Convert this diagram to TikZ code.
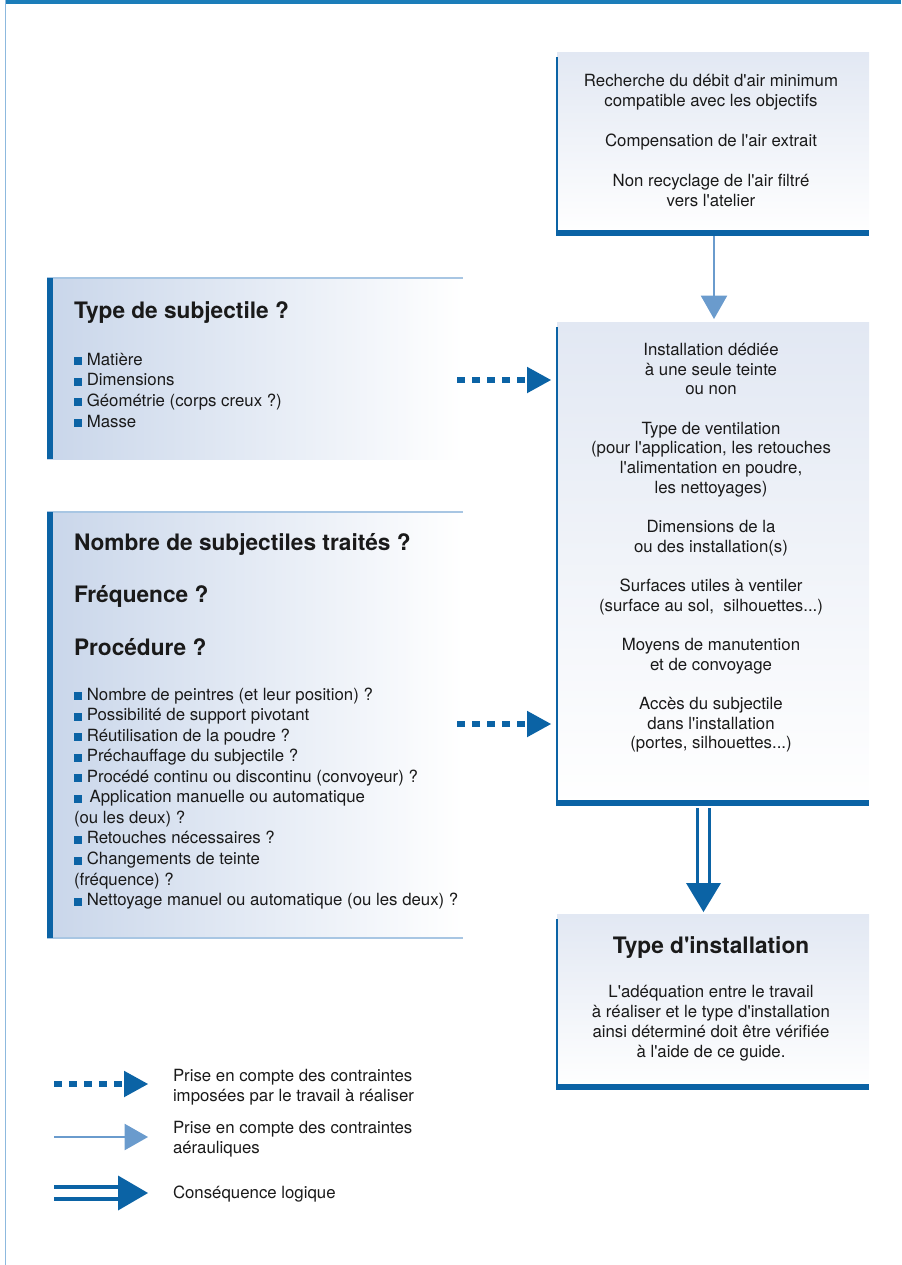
\documentclass[tikz,border=0pt]{standalone}
\usepackage{fontspec}
\setmainfont{TeX Gyre Heros}
\usetikzlibrary{arrows.meta,fit,calc}
\definecolor{dblue}{HTML}{0B63A5}
\definecolor{lblue}{HTML}{6A9BCD}
\definecolor{barblue}{HTML}{1B7DB9}
\definecolor{edgeblue}{HTML}{8DB9DE}
\definecolor{thinblue}{HTML}{A8C6E3}
\definecolor{shadeL}{HTML}{C9D6EA}
\definecolor{shadeR}{HTML}{E2E8F3}
\definecolor{ink}{HTML}{1A1A1A}
\newcommand\sqb{{\color{dblue}\rule{6pt}{6pt}}\hspace{3.6pt}}
\newcommand\q{\textquotesingle}
\begin{document}
\begin{tikzpicture}[x=0.75pt,y=-0.75pt,
  every node/.style={inner sep=0pt, outer sep=0pt, text=ink},
  rbox/.style={inner sep=0pt, outer sep=0pt, top color=shadeR, bottom color=white, draw=none},
  lbox/.style={inner sep=0pt, outer sep=0pt, left color=shadeL, right color=white, draw=none},
  body/.style={font=\fontsize{12.6}{15}\selectfont, align=center},
  lst/.style={font=\fontsize{12.6}{15.4}\selectfont, align=left, anchor=west},
  ttl/.style={font=\fontsize{17}{20}\selectfont\bfseries, anchor=base west},
  thickedge/.style={dblue, line width=4.2pt},
  thinedge/.style={dblue, line width=0.8pt},
  thinline/.style={thinblue, line width=0.8pt},
  dotarrow/.style={dblue, line width=4.5pt, dash pattern=on 5.8pt off 5.45pt, -{Triangle[length=18pt,width=19.9pt,line width=0pt]}},
  airarrow/.style={lblue, line width=1.6pt, -{Triangle[length=17.5pt,width=19.9pt,line width=0pt]}},
  dblshaft/.style={dblue, line width=2.5pt, double=white, double distance=6.5pt},
]
\useasboundingbox (0,0) rectangle (901,1265);
% page frame
\fill[barblue] (5,0) rectangle (901,3.5);
\draw[edgeblue, line width=1.2pt] (5.5,0) -- (5.5,1265);

% right boxes
\node[rbox, fit={(557,52)(869,236)}] (air) {};
\draw[thinedge] ([yshift=-4pt]air.north west) -- (air.south west);
\draw[thickedge] ([yshift=2.1pt]air.south west) -- ([yshift=2.1pt]air.south east);
\node[body] (airtxt) at (711,140) {Recherche du débit d\q air minimum\\compatible avec les objectifs\\[15pt]Compensation de l\q air extrait\\[15pt]Non recyclage de l\q air filtré\\vers l\q atelier};

\node[rbox, fit={(557,322)(869,806)}] (inst) {};
\draw[thinedge] ([yshift=-4pt]inst.north west) -- (inst.south west);
\draw[thickedge] ([yshift=2.1pt]inst.south west) -- ([yshift=2.1pt]inst.south east);
\node[body, font=\fontsize{12.6}{14.75}\selectfont] (insttxt) at (711,548) {Installation dédiée\\à une seule teinte\\ou non\\[14.75pt]Type de ventilation\\(pour l\q application, les retouches\\l\q alimentation en poudre,\\les nettoyages)\\[14.75pt]Dimensions de la\\ou des installation(s)\\[14.75pt]Surfaces utiles à ventiler\\(surface au sol,\ \ silhouettes...)\\[14.75pt]Moyens de manutention\\et de convoyage\\[14.75pt]Accès du subjectile\\dans l\q installation\\(portes, silhouettes...)};

\node[rbox, fit={(557,914)(869,1090)}] (type) {};
\draw[thinedge] ([yshift=-4pt]type.north west) -- (type.south west);
\draw[thickedge] ([yshift=2.1pt]type.south west) -- ([yshift=2.1pt]type.south east);
\node[ttl, anchor=base] (typettl) at (711,953) {Type d\q installation};
\node[body] (typetxt) at (711,1023) {L\q adéquation entre le travail\\à réaliser et le type d\q installation\\ainsi déterminé doit être vérifiée\\à l\q aide de ce guide.};

% left boxes
\node[lbox, fit={(47,278)(463,459)}] (subj) {};
\draw[thinline] (subj.north west) -- (subj.north east);
\draw[thickedge] ([xshift=2.1pt]subj.north west) -- ([xshift=2.1pt]subj.south west);
\node[ttl] (subjttl) at (74,318) {Type de subjectile ?};
\node[lst, font=\fontsize{12.6}{15.5}\selectfont] (subjlst) at (74,390) {\sqb Matière\\\sqb Dimensions\\\sqb Géométrie (corps creux ?)\\\sqb Masse};

\node[lbox, fit={(47,512)(463,938)}] (proc) {};
\draw[thinline] (proc.north west) -- (proc.north east);
\draw[thinline] (proc.south west) -- (proc.south east);
\draw[thickedge] ([xshift=2.1pt]proc.north west) -- ([xshift=2.1pt]proc.south west);
\node[ttl] (nbttl) at (74,550) {Nombre de subjectiles traités ?};
\node[ttl] (freqttl) at (74,602) {Fréquence ?};
\node[ttl] (procttl) at (74,655) {Procédure ?};
\node[lst] (proclst) at (74,798.5) {\sqb Nombre de peintres (et leur position) ?\\
\sqb Possibilité de support pivotant\\
\sqb Réutilisation de la poudre ?\\
\sqb Préchauffage du subjectile ?\\
\sqb Procédé continu ou discontinu (convoyeur) ?\\
\sqb\,Application manuelle ou automatique\\
(ou les deux) ?\\
\sqb Retouches nécessaires ?\\
\sqb Changements de teinte\\
(fréquence) ?\\
\sqb Nettoyage manuel ou automatique (ou les deux) ?};

% connectors
\coordinate (d1s) at (457,380);
\coordinate (d2s) at (457,724);
\draw[dotarrow] (d1s) -- ($(inst.west |- d1s)+(-6,0)$);
\draw[dotarrow] (d2s) -- ($(inst.west |- d2s)+(-6,0)$);
\draw[airarrow] ($(air.south)+(1,0)$) -- ($(inst.north)+(1,-3)$);
\coordinate (dtip) at ($(type.north)+(-9.5,-2)$);
\draw[dblshaft] ($(inst.south)+(-9.5,2)$) -- ($(dtip)+(0,-27)$);
\fill[dblue] (dtip) -- ++(-17.5,-29) -- ++(35,0) -- cycle;

% legend
\coordinate (l1s) at (54,1084);
\coordinate (l1e) at (148,1084);
\draw[dotarrow] (l1s) -- (l1e);
\node[body, align=left, anchor=west] (l1txt) at (173,1087) {Prise en compte des contraintes\\imposées par le travail à réaliser};
\coordinate (l2s) at (54,1137);
\coordinate (l2e) at (148,1137);
\draw[airarrow] (l2s) -- (l2e);
\node[body, align=left, anchor=west] (l2txt) at (173,1139) {Prise en compte des contraintes\\aérauliques};
\coordinate (l3s) at (54,1193);
\coordinate (l3e) at (148,1193);
\draw[dblshaft] (l3s) -- ($(l3e)+(-27,0)$);
\fill[dblue] (l3e) -- ++(-30,-17.5) -- ++(0,35) -- cycle;
\node[body, align=left, anchor=west] (l3txt) at (173,1194) {Conséquence logique};
\end{tikzpicture}
\end{document}
